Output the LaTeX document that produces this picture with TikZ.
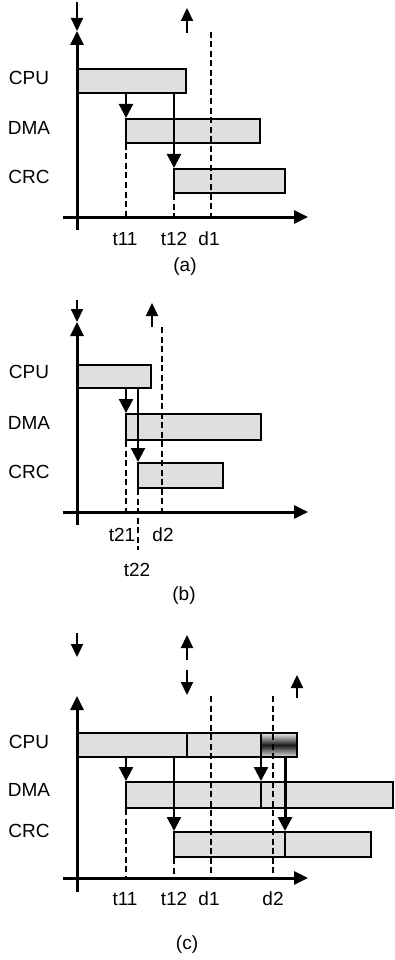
\documentclass[tikz,border=0pt]{standalone}
\usepackage{fontspec}
\setmainfont{Liberation Sans}
\usetikzlibrary{arrows.meta,fit}
\begin{document}
\begin{tikzpicture}[x=1pt,y=-1pt,
  bar/.style={draw, line width=2pt, fill=gray!25, inner sep=0pt},
  darkbar/.style={draw, line width=2pt, inner sep=0pt, top color=gray!15, bottom color=gray!25, middle color=black!90},
  ax/.style={line width=3pt, -{Triangle[width=13pt,length=14pt]}},
  arr/.style={line width=2.2pt, -{Triangle[width=14pt,length=14pt]}},
  tarr/.style={line width=3pt, -{Triangle[width=14pt,length=14pt]}},
  sarr/.style={line width=2.2pt, -{Triangle[width=12pt,length=13pt]}},
  dsh/.style={line width=2pt, dash pattern=on 6pt off 3.5pt},
  lbl/.style={font=\fontsize{19}{21}\selectfont, inner sep=0pt},
]
\useasboundingbox (0,0) rectangle (394,960);

% ---------------- (a) ----------------
\coordinate (oA) at (77,217);
\coordinate (topA) at (77,31);
\coordinate (inA) at (77,2);
\draw[ax] (77,230) -- (topA);
\draw[sarr] (inA) -- (topA);
\draw[ax] (63,217) -- (308,217);
\coordinate (upAs) at (187,33);
\coordinate (upAe) at (187,8);
\draw[sarr] (upAs) -- (upAe);
\node[bar, fit={(78,69) (186,93)}] (cpuA) {};
\node[bar, fit={(126,119) (260,143)}] (dmaA) {};
\node[bar, fit={(174,169) (285,193)}] (crcA) {};
\draw[dsh] (211,32) -- (oA -| 211,0);
\draw[arr] (cpuA.south -| 126,0) -- (dmaA.north -| 126,0);
\draw[arr] (cpuA.south -| 174,0) -- (crcA.north -| 174,0);
\draw[dsh] (dmaA.south -| 126,0) -- (oA -| 126,0);
\draw[dsh] (crcA.south -| 174,0) -- (oA -| 174,0);
\node[lbl] (lcpuA) at (29,78) {CPU};
\node[lbl] (ldmaA) at (29,128) {DMA};
\node[lbl] (lcrcA) at (29,177) {CRC};
\node[lbl] (t11A) at (125,239) {t11};
\node[lbl] (t12A) at (174,239) {t12};
\node[lbl] (d1A) at (209,239) {d1};
\node[lbl] (capA) at (185,267) {(a)};

% ---------------- (b) ----------------
\coordinate (oB) at (77,512);
\coordinate (topB) at (77,322);
\coordinate (inB) at (77,300);
\draw[ax] (77,525) -- (topB);
\draw[sarr] (inB) -- (topB);
\draw[ax] (63,512) -- (308,512);
\coordinate (upBs) at (152,327);
\coordinate (upBe) at (152,303);
\draw[sarr] (upBs) -- (upBe);
\node[bar, fit={(78,365) (151,388)}] (cpuB) {};
\node[bar, fit={(126,414) (261,440)}] (dmaB) {};
\node[bar, fit={(138,463) (223,488)}] (crcB) {};
\draw[dsh] (162,327) -- (oB -| 162,0);
\draw[arr] (cpuB.south -| 126,0) -- (dmaB.north -| 126,0);
\draw[arr] (cpuB.south -| 138,0) -- (crcB.north -| 138,0);
\draw[dsh] (dmaB.south -| 126,0) -- (oB -| 126,0);
\coordinate (t22end) at (138,550);
\draw[dsh] (crcB.south -| 138,0) -- (t22end);
\node[lbl] (lcpuB) at (29,372) {CPU};
\node[lbl] (ldmaB) at (29,423) {DMA};
\node[lbl] (lcrcB) at (29,472) {CRC};
\node[lbl] (t21B) at (122,535) {t21};
\node[lbl] (d2B) at (163,535) {d2};
\node[lbl] (t22B) at (137,570) {t22};
\node[lbl] (capB) at (184,596) {(b)};

% ---------------- (c) ----------------
\coordinate (oC) at (77,878);
\coordinate (topC) at (77,696);
\draw[ax] (77,892) -- (topC);
\draw[ax] (63,878) -- (308,878);
\coordinate (inCs) at (77,633);
\coordinate (inCe) at (77,657);
\draw[sarr] (inCs) -- (inCe);
\coordinate (upCs) at (187,660);
\coordinate (upCe) at (187,635);
\draw[sarr] (upCs) -- (upCe);
\coordinate (dnCs) at (187,670);
\coordinate (dnCe) at (187,695);
\draw[sarr] (dnCs) -- (dnCe);
\coordinate (up2Cs) at (297,698);
\coordinate (up2Ce) at (297,675);
\draw[sarr] (up2Cs) -- (up2Ce);
\node[bar, fit={(78,733) (187,757)}] (cpuC1) {};
\node[bar, fit={(187,733) (261,757)}] (cpuC2) {};
\node[darkbar, fit={(261,733) (297,757)}] (cpuC3) {};
\node[bar, fit={(126,782) (261,808)}] (dmaC1) {};
\node[bar, fit={(261,782) (393,808)}] (dmaC2) {};
\node[bar, fit={(174,832) (285,857)}] (crcC1) {};
\node[bar, fit={(285,832) (371,857)}] (crcC2) {};
\draw[dsh] (211,696) -- (oC -| 211,0);
\draw[dsh] (273,696) -- (oC -| 273,0);
\draw[arr] (cpuC1.south -| 126,0) -- (dmaC1.north -| 126,0);
\draw[arr] (cpuC1.south -| 174,0) -- (crcC1.north -| 174,0);
\draw[arr] (cpuC2.south -| 261,0) -- (dmaC1.north -| 261,0);
\draw[tarr] (cpuC3.south -| 285,0) -- (crcC1.north -| 285,0);
\draw[dsh] (dmaC1.south -| 126,0) -- (oC -| 126,0);
\draw[dsh] (crcC1.south -| 174,0) -- (oC -| 174,0);
\node[lbl] (lcpuC) at (29,742) {CPU};
\node[lbl] (ldmaC) at (29,790) {DMA};
\node[lbl] (lcrcC) at (29,831) {CRC};
\node[lbl] (t11C) at (125,899) {t11};
\node[lbl] (t12C) at (174,899) {t12};
\node[lbl] (d1C) at (209,899) {d1};
\node[lbl] (d2C) at (273,899) {d2};
\node[lbl] (capC) at (187,945) {(c)};
\end{tikzpicture}
\end{document}
